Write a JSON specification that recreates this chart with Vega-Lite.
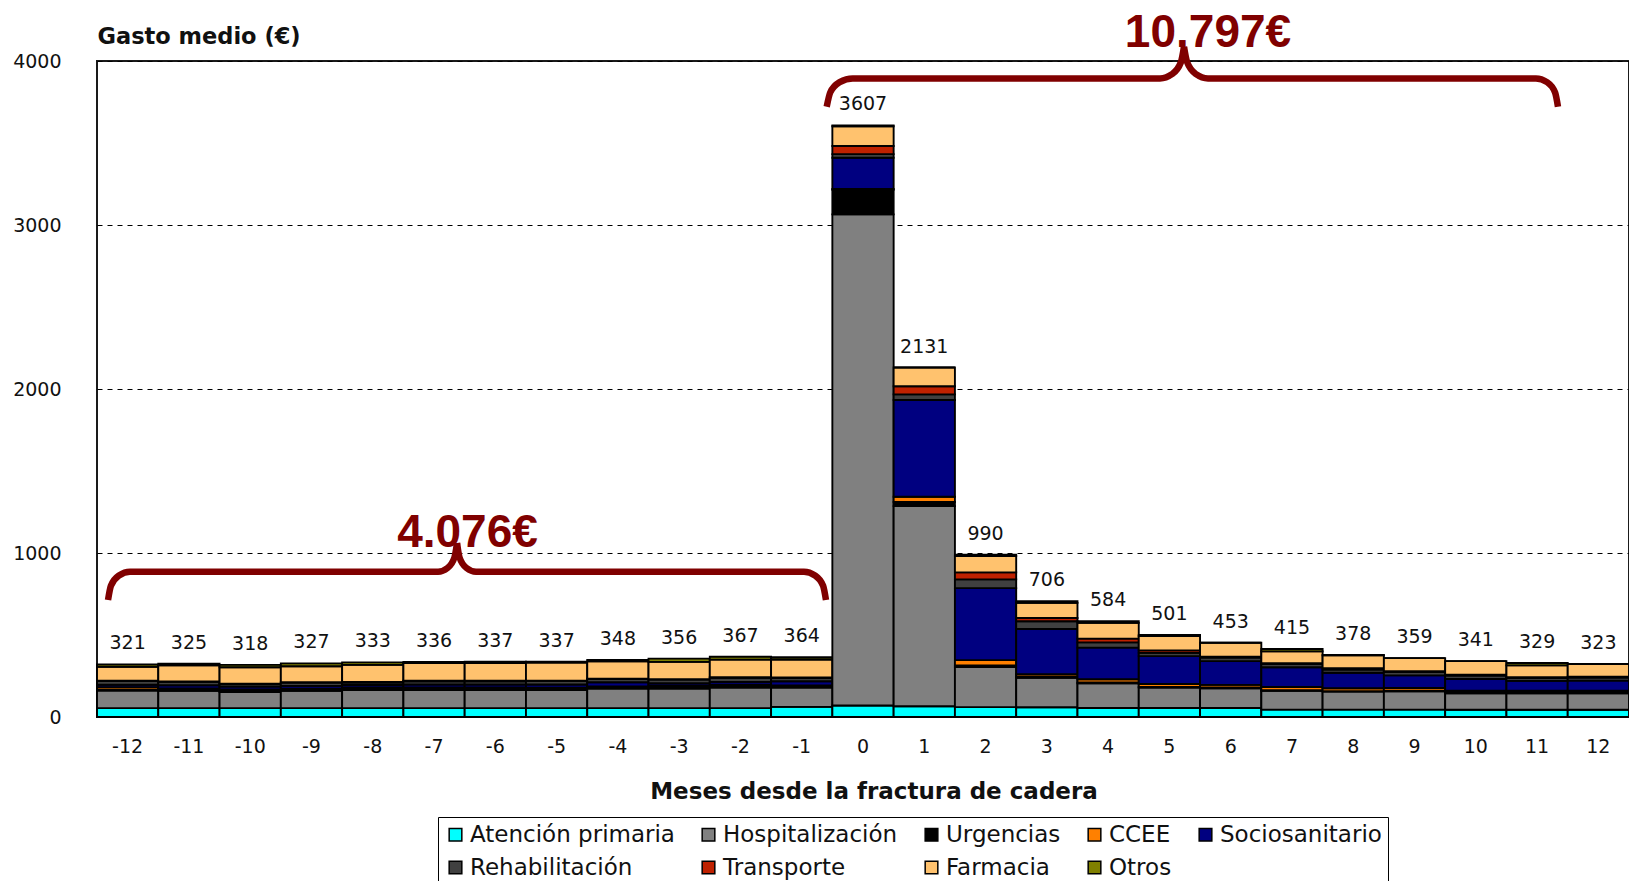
{
  "$schema": "https://vega.github.io/schema/vega-lite/v6.json",
  "width": 1532,
  "height": 656,
  "autosize": {"type": "none"},
  "padding": {"left": 97, "top": 61, "right": 0, "bottom": 164},
  "background": "white",
  "config": {
    "font": "DejaVu Sans",
    "view": {"stroke": "#1a1a1a", "strokeWidth": 2},
    "axis": {"domain": false, "ticks": false, "labelFont": "DejaVu Sans", "labelFontSize": 19, "labelColor": "#111", "titleFont": "DejaVu Sans", "titleFontWeight": "bold", "titleColor": "#111"}
  },
  "datasets": {
    "gasto": [
      {"mes": -12, "Atención primaria": 54, "Hospitalización": 108, "Urgencias": 6, "CCEE": 14, "Sociosanitario": 15, "Rehabilitación": 22, "Transporte": 2, "Farmacia": 85, "Otros": 15},
      {"mes": -11, "Atención primaria": 54, "Hospitalización": 105, "Urgencias": 10, "CCEE": 5, "Sociosanitario": 20, "Rehabilitación": 20, "Transporte": 3, "Farmacia": 98, "Otros": 10},
      {"mes": -10, "Atención primaria": 54, "Hospitalización": 98, "Urgencias": 12, "CCEE": 4, "Sociosanitario": 18, "Rehabilitación": 15, "Transporte": 2, "Farmacia": 100, "Otros": 15},
      {"mes": -9, "Atención primaria": 54, "Hospitalización": 105, "Urgencias": 8, "CCEE": 5, "Sociosanitario": 18, "Rehabilitación": 20, "Transporte": 2, "Farmacia": 97, "Otros": 18},
      {"mes": -8, "Atención primaria": 54, "Hospitalización": 110, "Urgencias": 6, "CCEE": 10, "Sociosanitario": 15, "Rehabilitación": 15, "Transporte": 3, "Farmacia": 105, "Otros": 15},
      {"mes": -7, "Atención primaria": 54, "Hospitalización": 110, "Urgencias": 6, "CCEE": 10, "Sociosanitario": 18, "Rehabilitación": 20, "Transporte": 3, "Farmacia": 108, "Otros": 7},
      {"mes": -6, "Atención primaria": 54, "Hospitalización": 110, "Urgencias": 6, "CCEE": 10, "Sociosanitario": 18, "Rehabilitación": 20, "Transporte": 3, "Farmacia": 108, "Otros": 8},
      {"mes": -5, "Atención primaria": 54, "Hospitalización": 110, "Urgencias": 8, "CCEE": 6, "Sociosanitario": 20, "Rehabilitación": 22, "Transporte": 2, "Farmacia": 110, "Otros": 5},
      {"mes": -4, "Atención primaria": 54, "Hospitalización": 120, "Urgencias": 8, "CCEE": 5, "Sociosanitario": 25, "Rehabilitación": 20, "Transporte": 2, "Farmacia": 105, "Otros": 9},
      {"mes": -3, "Atención primaria": 54, "Hospitalización": 120, "Urgencias": 5, "CCEE": 12, "Sociosanitario": 15, "Rehabilitación": 22, "Transporte": 3, "Farmacia": 105, "Otros": 20},
      {"mes": -2, "Atención primaria": 54, "Hospitalización": 125, "Urgencias": 6, "CCEE": 12, "Sociosanitario": 17, "Rehabilitación": 25, "Transporte": 3, "Farmacia": 108, "Otros": 17},
      {"mes": -1, "Atención primaria": 62, "Hospitalización": 118, "Urgencias": 10, "CCEE": 3, "Sociosanitario": 25, "Rehabilitación": 20, "Transporte": 3, "Farmacia": 110, "Otros": 13},
      {"mes": 0, "Atención primaria": 70, "Hospitalización": 2995, "Urgencias": 150, "CCEE": 5, "Sociosanitario": 190, "Rehabilitación": 22, "Transporte": 50, "Farmacia": 120, "Otros": 5},
      {"mes": 1, "Atención primaria": 66, "Hospitalización": 1220, "Urgencias": 25, "CCEE": 32, "Sociosanitario": 590, "Rehabilitación": 34, "Transporte": 50, "Farmacia": 114, "Otros": 0},
      {"mes": 2, "Atención primaria": 60, "Hospitalización": 245, "Urgencias": 10, "CCEE": 32, "Sociosanitario": 439, "Rehabilitación": 53, "Transporte": 43, "Farmacia": 100, "Otros": 8},
      {"mes": 3, "Atención primaria": 59, "Hospitalización": 180, "Urgencias": 6, "CCEE": 16, "Sociosanitario": 276, "Rehabilitación": 47, "Transporte": 20, "Farmacia": 92, "Otros": 10},
      {"mes": 4, "Atención primaria": 55, "Hospitalización": 150, "Urgencias": 5, "CCEE": 20, "Sociosanitario": 193, "Rehabilitación": 32, "Transporte": 23, "Farmacia": 96, "Otros": 10},
      {"mes": 5, "Atención primaria": 55, "Hospitalización": 125, "Urgencias": 3, "CCEE": 18, "Sociosanitario": 170, "Rehabilitación": 20, "Transporte": 15, "Farmacia": 88, "Otros": 7},
      {"mes": 6, "Atención primaria": 55, "Hospitalización": 120, "Urgencias": 5, "CCEE": 16, "Sociosanitario": 145, "Rehabilitación": 22, "Transporte": 5, "Farmacia": 85, "Otros": 0},
      {"mes": 7, "Atención primaria": 45, "Hospitalización": 115, "Urgencias": 3, "CCEE": 20, "Sociosanitario": 120, "Rehabilitación": 20, "Transporte": 5, "Farmacia": 72, "Otros": 15},
      {"mes": 8, "Atención primaria": 45, "Hospitalización": 110, "Urgencias": 3, "CCEE": 17, "Sociosanitario": 95, "Rehabilitación": 20, "Transporte": 8, "Farmacia": 78, "Otros": 2},
      {"mes": 9, "Atención primaria": 45, "Hospitalización": 112, "Urgencias": 3, "CCEE": 17, "Sociosanitario": 77, "Rehabilitación": 20, "Transporte": 5, "Farmacia": 80, "Otros": 0},
      {"mes": 10, "Atención primaria": 44, "Hospitalización": 100, "Urgencias": 8, "CCEE": 8, "Sociosanitario": 72, "Rehabilitación": 20, "Transporte": 6, "Farmacia": 83, "Otros": 0},
      {"mes": 11, "Atención primaria": 44, "Hospitalización": 100, "Urgencias": 8, "CCEE": 8, "Sociosanitario": 60, "Rehabilitación": 18, "Transporte": 5, "Farmacia": 72, "Otros": 14},
      {"mes": 12, "Atención primaria": 44, "Hospitalización": 100, "Urgencias": 8, "CCEE": 8, "Sociosanitario": 62, "Rehabilitación": 18, "Transporte": 5, "Farmacia": 78, "Otros": 0}
    ],
    "categorias": [
      {"categoria": "Atención primaria", "orden": 1},
      {"categoria": "Hospitalización", "orden": 2},
      {"categoria": "Urgencias", "orden": 3},
      {"categoria": "CCEE", "orden": 4},
      {"categoria": "Sociosanitario", "orden": 5},
      {"categoria": "Rehabilitación", "orden": 6},
      {"categoria": "Transporte", "orden": 7},
      {"categoria": "Farmacia", "orden": 8},
      {"categoria": "Otros", "orden": 9}
    ],
    "llaves": [
      {"tramo": "izqA", "i": 0, "bx": -12.320, "by": 713},
      {"tramo": "izqA", "i": 1, "bx": -12.273, "by": 800},
      {"tramo": "izqA", "i": 2, "bx": -12.141, "by": 863},
      {"tramo": "izqA", "i": 3, "bx": -11.962, "by": 886},
      {"tramo": "izqA", "i": 4, "bx": -6.935, "by": 886},
      {"tramo": "izqA", "i": 5, "bx": -6.780, "by": 909},
      {"tramo": "izqA", "i": 6, "bx": -6.667, "by": 973},
      {"tramo": "izqA", "i": 7, "bx": -6.625, "by": 1061},
      {"tramo": "izqB", "i": 0, "bx": -6.625, "by": 1061},
      {"tramo": "izqB", "i": 1, "bx": -6.584, "by": 973},
      {"tramo": "izqB", "i": 2, "bx": -6.470, "by": 909},
      {"tramo": "izqB", "i": 3, "bx": -6.315, "by": 886},
      {"tramo": "izqB", "i": 4, "bx": -0.963, "by": 886},
      {"tramo": "izqB", "i": 5, "bx": -0.783, "by": 863},
      {"tramo": "izqB", "i": 6, "bx": -0.651, "by": 800},
      {"tramo": "izqB", "i": 7, "bx": -0.604, "by": 713},
      {"tramo": "derA", "i": 0, "bx": -0.592, "by": 3721},
      {"tramo": "derA", "i": 1, "bx": -0.535, "by": 3808},
      {"tramo": "derA", "i": 2, "bx": -0.380, "by": 3871},
      {"tramo": "derA", "i": 3, "bx": -0.168, "by": 3894},
      {"tramo": "derA", "i": 4, "bx": 4.847, "by": 3894},
      {"tramo": "derA", "i": 5, "bx": 5.042, "by": 3920},
      {"tramo": "derA", "i": 6, "bx": 5.186, "by": 3991},
      {"tramo": "derA", "i": 7, "bx": 5.238, "by": 4087},
      {"tramo": "derB", "i": 0, "bx": 5.238, "by": 4087},
      {"tramo": "derB", "i": 1, "bx": 5.291, "by": 3991},
      {"tramo": "derB", "i": 2, "bx": 5.434, "by": 3920},
      {"tramo": "derB", "i": 3, "bx": 5.630, "by": 3894},
      {"tramo": "derB", "i": 4, "bx": 10.982, "by": 3894},
      {"tramo": "derB", "i": 5, "bx": 11.162, "by": 3871},
      {"tramo": "derB", "i": 6, "bx": 11.294, "by": 3808},
      {"tramo": "derB", "i": 7, "bx": 11.341, "by": 3721}
    ],
    "sumas": [
      {"bx": -6.454, "by": 1038, "txt": "4.076€"},
      {"bx": 5.63, "by": 4087, "txt": "10.797€"}
    ]
  },
  "resolve": {"scale": {"x": "independent", "y": "independent"}},
  "layer": [
    {
      "data": {"name": "gasto"},
      "transform": [
        {"fold": ["Atención primaria", "Hospitalización", "Urgencias", "CCEE", "Sociosanitario", "Rehabilitación", "Transporte", "Farmacia", "Otros"], "as": ["categoria", "valor"]},
        {"lookup": "categoria", "from": {"data": {"name": "categorias"}, "key": "categoria", "fields": ["orden"]}}
      ],
      "mark": {"type": "bar", "stroke": "#000", "strokeWidth": 1.9},
      "encoding": {
        "x": {
          "field": "mes", "type": "ordinal",
          "scale": {"domain": [-12, -11, -10, -9, -8, -7, -6, -5, -4, -3, -2, -1, 0, 1, 2, 3, 4, 5, 6, 7, 8, 9, 10, 11, 12], "paddingInner": 0, "paddingOuter": 0},
          "axis": {"title": "Meses desde la fractura de cadera", "labelAngle": 0, "labelPadding": 20, "titleFontSize": 23, "titleX": 776.5, "titleY": 81, "titleBaseline": "alphabetic", "grid": false}
        },
        "y": {
          "field": "valor", "type": "quantitative", "stack": "zero",
          "scale": {"domain": [0, 4000], "nice": false},
          "axis": {"title": "Gasto medio (€)", "values": [0, 1000, 2000, 3000, 4000], "format": "d", "grid": true, "gridDash": [5, 5], "gridColor": "#000", "gridWidth": 1, "labelPadding": 36, "titleAngle": 0, "titleX": 0, "titleY": -18, "titleAlign": "left", "titleBaseline": "alphabetic", "titleFontSize": 22.5}
        },
        "order": {"field": "orden", "type": "quantitative", "sort": "ascending"},
        "color": {
          "field": "categoria", "type": "nominal",
          "sort": ["Atención primaria", "Hospitalización", "Urgencias", "CCEE", "Sociosanitario", "Rehabilitación", "Transporte", "Farmacia", "Otros"],
          "scale": {
            "domain": ["Atención primaria", "Hospitalización", "Urgencias", "CCEE", "Sociosanitario", "Rehabilitación", "Transporte", "Farmacia", "Otros"],
            "range": ["#00FFFF", "#808080", "#000000", "#FF8000", "#000080", "#404040", "#BF2100", "#FFC26E", "#808000"]
          },
          "legend": {"orient": "none", "legendX": 341, "legendY": 756, "direction": "horizontal", "columns": 5, "title": null, "symbolType": "square", "symbolSize": 160, "symbolStrokeColor": "#000", "symbolStrokeWidth": 1.5, "symbolOpacity": 1, "labelFontSize": 23, "labelFont": "DejaVu Sans", "labelColor": "#111", "labelOffset": 3, "columnPadding": 22, "rowPadding": 9, "padding": 6, "strokeColor": "#000", "fillColor": "#fff", "labelLimit": 400}
        }
      }
    },
    {
      "data": {"name": "gasto"},
      "transform": [{"fold": ["Atención primaria", "Hospitalización", "Urgencias", "CCEE", "Sociosanitario", "Rehabilitación", "Transporte", "Farmacia", "Otros"], "as": ["categoria", "valor"]}],
      "mark": {"type": "text", "dy": -21, "baseline": "middle", "align": "center", "fontSize": 19, "font": "DejaVu Sans", "color": "#111"},
      "encoding": {
        "x": {"field": "mes", "type": "ordinal", "scale": {"domain": [-12, -11, -10, -9, -8, -7, -6, -5, -4, -3, -2, -1, 0, 1, 2, 3, 4, 5, 6, 7, 8, 9, 10, 11, 12], "paddingInner": 0, "paddingOuter": 0}, "axis": null},
        "y": {"aggregate": "sum", "field": "valor", "type": "quantitative", "scale": {"domain": [0, 4000], "nice": false}, "axis": null},
        "text": {"aggregate": "sum", "field": "valor", "type": "quantitative", "format": "d"}
      }
    },
    {
      "data": {"name": "sumas"},
      "mark": {"type": "text", "align": "center", "baseline": "alphabetic", "fontSize": 46, "font": "Liberation Sans", "fontWeight": "bold", "color": "#800000"},
      "encoding": {
        "x": {"field": "bx", "type": "quantitative", "scale": {"domain": [-12.5, 12.5], "nice": false, "zero": false}, "axis": null},
        "y": {"field": "by", "type": "quantitative", "scale": {"domain": [0, 4000], "nice": false}, "axis": null},
        "text": {"field": "txt", "type": "nominal"}
      }
    },
    {
      "data": {"name": "llaves"},
      "mark": {"type": "line", "interpolate": "monotone", "color": "#800000", "strokeWidth": 6.5, "strokeCap": "butt"},
      "encoding": {
        "x": {"field": "bx", "type": "quantitative", "scale": {"domain": [-12.5, 12.5], "nice": false, "zero": false}, "axis": null},
        "y": {"field": "by", "type": "quantitative", "scale": {"domain": [0, 4000], "nice": false}, "axis": null},
        "detail": {"field": "tramo", "type": "nominal"},
        "order": {"field": "i", "type": "quantitative"}
      }
    }
  ]
}
